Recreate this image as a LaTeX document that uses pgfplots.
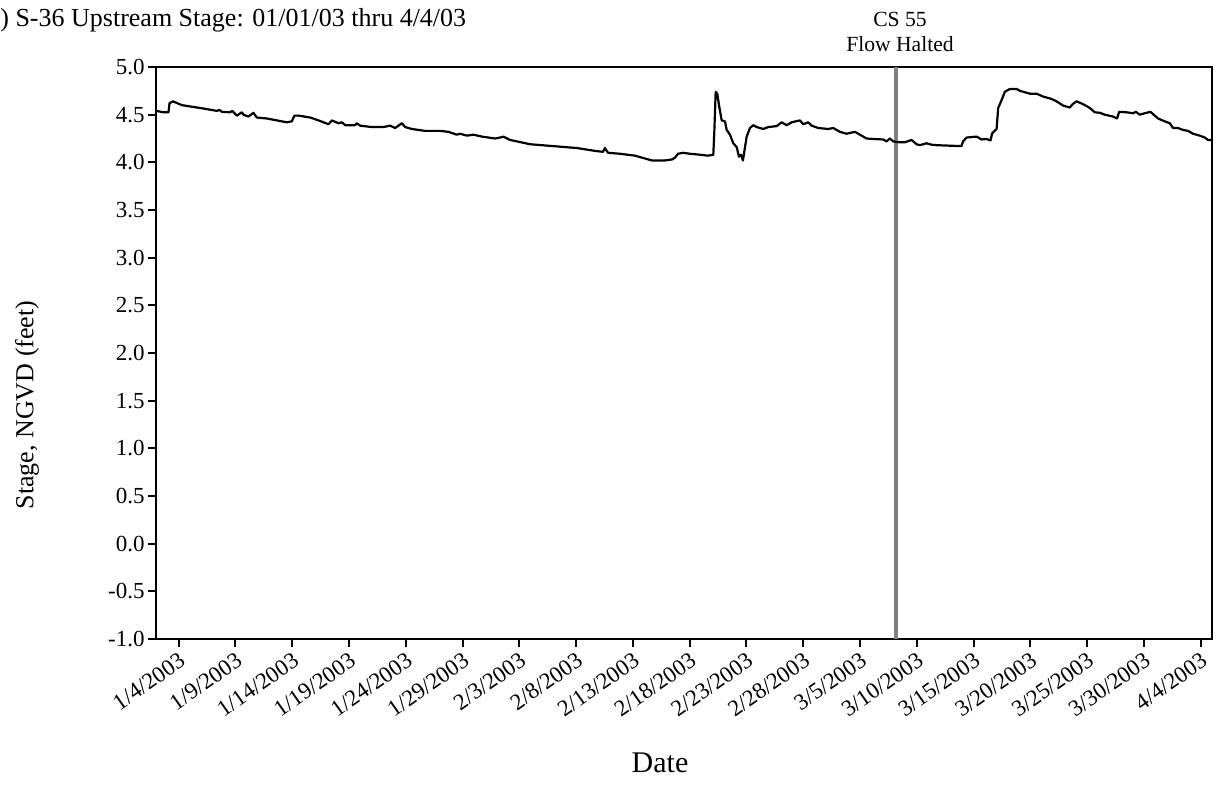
\documentclass[border=0pt]{standalone}
\usepackage{pgfplots}
\pgfplotsset{compat=1.18}
\usepackage{pgfplotstable}
\usepackage{fontspec}
\setmainfont{Liberation Serif}
\definecolor{haltgray}{RGB}{128,128,128}

\pgfplotstableread{
day val
2.00 4.54
2.66 4.525
3.10 4.525
3.19 4.62
3.49 4.64
4.28 4.60
5.89 4.57
7.36 4.54
7.59 4.55
7.80 4.53
8.53 4.525
8.71 4.54
9.12 4.49
9.56 4.525
9.70 4.50
10.14 4.48
10.58 4.52
10.88 4.47
11.76 4.46
12.64 4.44
13.52 4.42
13.96 4.43
14.19 4.49
14.55 4.49
15.58 4.47
16.31 4.44
17.19 4.40
17.49 4.44
18.07 4.41
18.37 4.42
18.66 4.39
19.54 4.39
19.69 4.41
19.98 4.385
21.01 4.37
22.03 4.37
22.62 4.385
23.06 4.36
23.65 4.41
23.94 4.37
24.53 4.35
25.70 4.33
26.58 4.33
27.02 4.33
27.75 4.32
28.49 4.29
28.78 4.30
29.37 4.28
29.95 4.29
30.69 4.27
31.86 4.25
32.30 4.26
32.59 4.27
33.18 4.235
33.77 4.22
34.94 4.19
36.99 4.17
39.08 4.15
40.66 4.12
41.37 4.11
41.54 4.15
41.81 4.10
42.86 4.09
44.19 4.07
45.07 4.04
45.68 4.02
46.83 4.02
47.44 4.03
47.71 4.05
47.97 4.09
48.41 4.10
49.03 4.09
49.91 4.08
50.61 4.07
51.08 4.08
51.17 4.32
51.29 4.74
51.43 4.72
51.61 4.58
51.82 4.44
52.11 4.43
52.26 4.34
52.55 4.29
52.84 4.20
53.14 4.16
53.34 4.06
53.52 4.08
53.69 4.02
54.02 4.27
54.31 4.36
54.60 4.39
54.90 4.37
55.48 4.35
55.92 4.37
56.66 4.38
57.10 4.42
57.54 4.39
57.98 4.42
58.71 4.44
59.00 4.40
59.44 4.42
59.74 4.385
60.32 4.36
61.20 4.35
61.64 4.36
62.23 4.32
62.82 4.30
63.55 4.32
63.99 4.29
64.58 4.25
65.16 4.245
66.04 4.24
66.34 4.22
66.63 4.25
66.92 4.22
67.51 4.21
67.95 4.21
68.54 4.235
68.98 4.19
69.27 4.18
69.86 4.20
70.30 4.185
70.74 4.18
72.94 4.17
73.08 4.22
73.38 4.26
74.27 4.27
74.71 4.24
75.14 4.245
75.50 4.23
75.64 4.305
76.03 4.35
76.17 4.57
76.46 4.65
76.76 4.74
77.20 4.77
77.79 4.77
78.08 4.75
78.96 4.72
79.55 4.72
80.13 4.69
80.87 4.665
81.31 4.64
81.89 4.595
82.48 4.575
82.72 4.61
83.07 4.64
83.65 4.61
84.24 4.57
84.68 4.525
85.12 4.52
85.56 4.50
86.29 4.48
86.64 4.46
86.82 4.53
87.47 4.525
88.05 4.515
88.29 4.53
88.64 4.50
89.08 4.515
89.58 4.53
90.25 4.46
90.84 4.43
91.28 4.41
91.57 4.36
92.01 4.36
92.45 4.34
92.89 4.33
93.33 4.30
93.92 4.28
94.36 4.26
94.65 4.235
94.95 4.235
}\stagedata

\begin{document}
\begin{tikzpicture}
\path[use as bounding box] (-78pt,-74pt) rectangle (534.5pt,319.5pt);
\begin{axis}[
  scale only axis,
  width=528pt, height=286pt,
  xmin=2, xmax=95,
  ymin=-1, ymax=5,
  ytick={-1,-0.5,...,5},
  xtick={4,9,...,94},
  xticklabels={1/4/2003,1/9/2003,1/14/2003,1/19/2003,1/24/2003,1/29/2003,2/3/2003,2/8/2003,2/13/2003,2/18/2003,2/23/2003,2/28/2003,3/5/2003,3/10/2003,3/15/2003,3/20/2003,3/25/2003,3/30/2003,4/4/2003},
  xtick pos=bottom, ytick pos=left,
  tick align=outside,
  major tick length=4pt,
  axis line style={line width=1pt},
  every tick/.style={black, line width=1pt},
  /pgf/number format/assume math mode=true,
  yticklabel style={/pgf/number format/.cd, fixed, fixed zerofill, precision=1, /tikz/.cd, inner sep=1.5pt, font=\fontsize{11.5}{13}\selectfont},
  xticklabel style={rotate=35, anchor=north east, inner sep=1.5pt, font=\fontsize{11.5}{13}\selectfont},
  clip=false,
]
\addplot[haltgray, line width=2pt] coordinates {(67.2,-1) (67.2,5)};
\addplot[black, line width=1.1pt, line join=round] table[x=day, y=val] {\stagedata};
\end{axis}
\node[anchor=base west, inner sep=0pt, font=\fontsize{13}{15}\selectfont] at (-78pt,306pt) {) S-36 Upstream Stage: 01/01/03 thru 4/4/03};
\node[anchor=base, inner sep=0pt, font=\fontsize{10.8}{12}\selectfont] at (372pt,306pt) {CS 55};
\node[anchor=base, inner sep=0pt, font=\fontsize{10.8}{12}\selectfont] at (372pt,293.5pt) {Flow Halted};
\node[anchor=base, inner sep=0pt, font=\fontsize{15}{17}\selectfont] at (252pt,-66.5pt) {Date};
\node[rotate=90, inner sep=0pt, font=\fontsize{13}{15}\selectfont] at (-64.5pt,117pt) {Stage, NGVD (feet)};
\end{tikzpicture}
\end{document}
